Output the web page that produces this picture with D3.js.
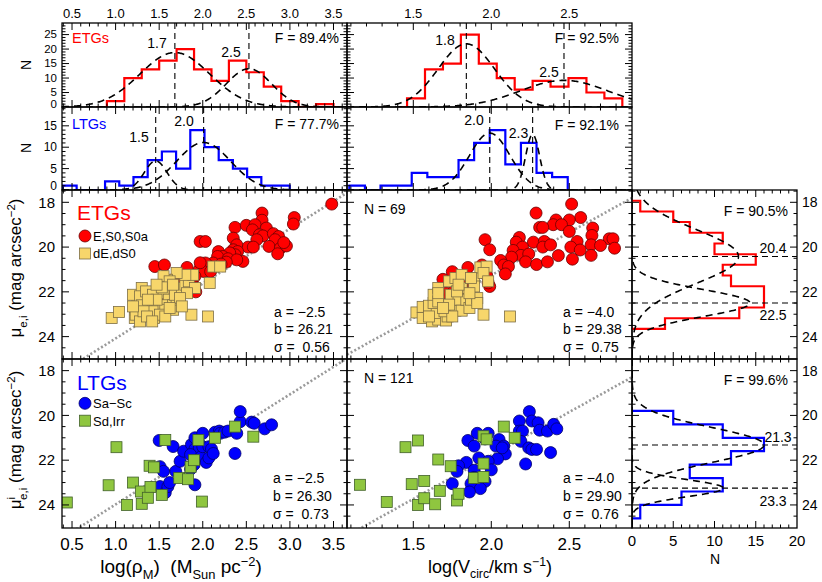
<!DOCTYPE html>
<html><head><meta charset="utf-8">
<script src="https://cdn.jsdelivr.net/npm/d3@7"></script>
<style>
body{margin:0;background:#fff}
svg text{font-family:"Liberation Sans",Arial,Helvetica,sans-serif;fill:#000;white-space:pre}
</style></head>
<body><svg id="c" width="822" height="582" xmlns="http://www.w3.org/2000/svg"></svg>
<script>
// ---------------- DATA ----------------
const rhoTicks=[0.5,1.0,1.5,2.0,2.5,3.0,3.5];
const vcTicks=[1.5,2.0,2.5];
const muTicks=[18,20,22,24];
const nTicks=[0,5,10,15,20];
const histTicksETG=[0,5,10,15,20,25];
const histTicksLTG=[0,5,10,15];

// top histograms (bin edges, counts)
const etgRhoEdges=[0.78,0.9,1.1,1.3,1.5,1.7,1.9,2.1,2.3,2.5,2.7,2.9,3.1,3.3,3.5,3.62];
const etgRhoCounts=[0,2,10,13,16,20,13,9,16,12,7,2,0,1,0];
const ltgRhoEdges=[0.39,0.553,0.716,0.879,1.042,1.205,1.368,1.531,1.694,1.857,2.02,2.183,2.346,2.509,2.672,2.835,2.998];
const ltgRhoCounts=[1,0,0,2,1,3,7,9,5,14,10,7,5,3,1,1];
const etgVcEdges=[1.40,1.46,1.575,1.69,1.805,1.92,2.035,2.15,2.265,2.38,2.495,2.61,2.725,2.84];
const etgVcCounts=[0,3,13,15,25,15,10,6,9,7,10,5,3];
const ltgVcEdges=[1.09,1.19,1.29,1.39,1.49,1.59,1.69,1.79,1.89,1.99,2.09,2.19,2.29,2.39,2.49];
const ltgVcCounts=[1,0,1,1,4,3,3,7,11,14,6,11,4,3];
// right histograms (surface brightness)
const etgMuEdges=[17.93,18.41,18.88,19.36,19.84,20.32,20.79,21.27,21.75,22.22,22.7,23.18,23.65];
const etgMuCounts=[1,5,7,11,10,15,11,12,16,16,13,4];
const ltgMuEdges=[19.8,20.4,21.0,21.6,22.2,22.8,23.4,24.0,24.6];
const ltgMuCounts=[5,11,16,12,7,11,6,1];

// two-gaussian fits: centres, sigmas, amplitudes, labels
const etgRhoFit={c:[1.68,2.53],s:[0.40,0.26],a:[18.8,13.2],lab:["1.7","2.5"],F:"F = 89.4%"};
const ltgRhoFit={c:[1.46,2.01],s:[0.13,0.31],a:[6.8,11.1],lab:["1.5","2.0"],F:"F = 77.7%"};
const etgVcFit={c:[1.84,2.466],s:[0.18,0.28],a:[21.8,9.2],lab:["1.8","2.5"],F:"F = 92.5%"};
const ltgVcFit={c:[1.99,2.265],s:[0.13,0.045],a:[13.3,13.0],lab:["2.0","2.3"],F:"F = 92.1%"};
const etgMuFit={c:[20.42,22.5],s:[1.2,0.6],a:[12.9,14.3],lab:["20.4","22.5"],F:"F = 90.5%"};
const ltgMuFit={c:[21.32,23.25],s:[0.78,0.38],a:[16.0,11.1],lab:["21.3","23.3"],F:"F = 99.6%"};

// linear relations drawn as dotted lines [slope, intercept]
const etgRhoLine=[-2.45,26.53], ltgRhoLine=[-2.46,26.44];
const etgVcLine=[-3.83,28.92], ltgVcLine=[-3.88,29.55];
const etgRhoText=["a = \u22122.5","b = 26.21","\u03c3 =  0.56"];
const etgVcText=["a = \u22124.0","b = 29.38","\u03c3 =  0.75"];
const ltgRhoText=["a = \u22122.5","b = 26.30","\u03c3 =  0.73"];
const ltgVcText=["a = \u22124.0","b = 29.90","\u03c3 =  0.76"];

// scatter: [x, mu]
const etgRhoE=[[3.48,18.08],[2.68,18.48],[2.68,18.8],[3.05,18.68],[3.04,18.97],[2.37,19.12],[2.5,19.03],[2.6,19.0],[2.57,19.23],[2.73,19.15],[2.65,19.45],[2.69,19.5],[2.81,19.4],[2.87,19.53],[2.83,19.67],[2.62,19.67],[2.35,19.6],[1.97,19.75],[2.03,19.75],[2.76,19.97],[2.89,20.05],[2.96,19.95],[2.52,20.0],[2.39,19.9],[2.35,20.12],[2.40,20.2],[2.37,20.34],[2.31,20.26],[2.18,20.2],[2.23,20.42],[2.17,20.42],[2.29,20.52],[2.46,20.64],[2.39,20.57],[2.27,20.67],[2.12,20.71],[2.08,20.87],[2.05,20.94],[2.03,20.71],[2.21,20.76],[1.82,20.91],[1.96,21.01],[2.01,21.09],[1.45,20.87],[1.56,20.8],[1.66,21.46],[1.72,21.68],[1.77,21.6],[1.89,21.4],[1.82,21.83],[1.92,22.0],[1.74,22.0],[1.53,22.05],[1.61,22.2],[1.55,22.43],[1.53,22.6],[1.91,21.3],[2.09,21.09],[1.97,20.7],[2.58,20.0],[2.93,19.8],[2.86,20.3]];
const etgRhoD=[[0.955,23.17],[1.04,22.9],[1.22,23.17],[1.23,22.8],[1.25,22.5],[1.2,22.13],[1.30,21.83],[1.28,22.2],[1.30,22.6],[1.23,23.02],[1.28,23.32],[1.35,21.98],[1.43,22.13],[1.45,22.5],[1.47,22.8],[1.44,23.17],[1.43,22.87],[1.55,22.06],[1.61,22.35],[1.55,22.6],[1.57,22.8],[1.51,23.02],[1.66,22.6],[1.66,22.8],[1.70,22.35],[1.68,22.13],[1.76,21.83],[1.80,21.68],[1.84,21.53],[1.89,21.24],[1.80,21.24],[1.70,21.16],[1.59,21.46],[1.55,21.3],[1.62,21.53],[2.08,21.6],[1.87,23.02],[2.06,23.1],[2.12,20.87],[2.20,20.87],[1.91,21.83],[1.82,22.06],[1.74,22.28],[1.47,22.35],[1.37,22.35],[1.32,22.87],[1.36,23.1],[1.42,23.32],[1.57,23.1],[1.76,22.65],[1.62,22.72],[1.53,21.8],[1.66,21.68],[1.47,21.68],[1.20,22.65]];
const etgVcE=[[2.515,18.08],[2.287,18.48],[2.573,18.68],[2.415,18.79],[2.50,18.79],[2.397,19.0],[2.45,19.0],[2.31,19.12],[2.33,19.12],[2.65,19.15],[2.50,19.3],[2.645,19.48],[2.18,19.57],[2.16,19.78],[2.27,19.78],[2.34,19.75],[2.55,19.75],[2.756,19.63],[2.78,19.63],[1.96,19.67],[1.99,20.12],[2.2,20.0],[2.14,20.15],[2.33,20.0],[2.38,19.9],[2.51,20.0],[2.57,20.13],[2.64,19.9],[2.70,19.93],[2.79,20.05],[2.43,20.38],[2.52,20.54],[2.64,20.37],[2.19,20.37],[2.24,20.31],[2.13,20.45],[2.06,20.6],[2.22,20.66],[2.29,20.78],[2.36,20.66],[1.85,20.91],[1.94,20.8],[2.08,20.8],[2.11,20.87],[2.09,21.2],[1.97,21.26],[1.75,21.1],[1.69,21.44],[1.99,21.76],[1.71,22.05],[1.98,21.6],[1.87,21.6],[1.81,21.68],[1.76,21.98],[1.81,22.2],[1.66,22.65]];
const etgVcD=[[1.52,22.92],[1.56,23.17],[1.56,22.67],[1.6,22.62],[1.62,23.32],[1.66,23.24],[1.65,22.95],[1.63,22.5],[1.63,22.13],[1.66,21.83],[1.66,22.43],[1.71,23.28],[1.72,23.1],[1.70,22.87],[1.73,21.53],[1.74,22.13],[1.77,21.38],[1.77,22.84],[1.79,22.35],[1.81,21.24],[1.81,22.84],[1.81,21.83],[1.84,22.35],[1.86,22.72],[1.87,22.35],[1.89,21.38],[1.89,21.76],[1.91,22.28],[1.91,22.5],[1.93,20.91],[1.97,20.87],[1.95,21.16],[1.98,21.53],[1.95,23.02],[2.12,23.1],[1.73,22.57],[1.78,21.98],[1.66,22.06],[1.75,23.1],[1.6,23.1],[1.86,22.06],[1.69,22.72],[1.87,21.38],[1.79,21.68]];
const ltgRhoS=[[1.50,21.12],[1.66,21.39],[1.51,22.29],[1.51,23.18],[1.55,22.5],[1.57,23.45],[1.6,23.18],[1.62,23.0],[1.69,22.5],[1.74,22.05],[1.78,21.6],[1.87,21.3],[1.91,21.5],[1.95,21.2],[1.91,21.0],[1.96,21.45],[1.86,21.75],[1.90,22.2],[1.86,22.4],[1.98,21.85],[2.0,21.4],[1.91,23.1],[2.0,20.8],[2.07,21.4],[2.04,22.1],[2.07,21.9],[2.1,21.5],[2.12,21.7],[2.14,20.75],[2.19,20.7],[2.2,20.8],[2.25,20.75],[2.29,20.7],[2.39,20.8],[2.37,21.7],[2.43,20.28],[2.43,19.83],[2.56,20.3],[2.59,20.35],[2.71,20.6],[2.79,20.42]];
const ltgRhoI=[[0.44,23.89],[1.01,21.42],[0.92,23.12],[1.2,23.0],[1.13,24.0],[1.30,23.95],[1.29,23.4],[1.39,22.25],[1.44,22.32],[1.40,23.2],[1.37,23.68],[1.53,23.55],[1.57,21.1],[1.73,22.8],[1.83,22.85],[1.86,22.3],[1.90,22.0],[1.95,21.1],[1.99,23.85],[2.14,21.0],[2.37,20.5],[2.58,20.95]];
const ltgVcS=[[2.244,19.83],[2.18,20.25],[2.26,20.25],[2.30,20.33],[2.31,20.66],[2.18,20.7],[2.2,20.7],[2.36,20.7],[2.40,20.4],[2.42,20.6],[1.98,20.8],[1.91,20.8],[1.85,21.12],[1.89,21.37],[1.96,21.05],[2.05,21.08],[2.03,21.37],[2.08,21.37],[2.09,21.72],[2.04,21.94],[2.19,21.16],[2.24,21.45],[2.26,21.52],[2.29,21.52],[2.38,21.66],[2.22,22.17],[1.92,21.9],[1.98,22.05],[1.84,22.1],[1.79,22.25],[1.78,22.5],[1.89,22.45],[2.0,22.43],[1.75,23.05],[1.87,23.05],[1.89,22.77],[1.96,22.95],[1.93,23.27],[1.86,23.42],[2.07,21.45]];
const ltgVcI=[[1.158,23.1],[1.33,23.87],[1.45,21.42],[1.53,21.12],[1.49,23.07],[1.57,22.93],[1.53,24.0],[1.57,23.7],[1.64,23.97],[1.66,21.97],[1.67,23.37],[1.74,22.27],[1.78,23.8],[1.79,23.5],[1.89,22.8],[1.95,22.75],[1.95,22.15],[1.95,20.93],[1.97,21.07],[2.08,20.5],[2.15,21.0]];

// ---------------- LAYOUT ----------------
const svg=d3.select('#c');
const colL=[62,347], colM=[347,632], colR=[632,797];
const rHE=[23,107], rHL=[107,190], rSE=[190,359], rSL=[359,528];
const xRho=d3.scaleLinear().domain([0.385,3.655]).range(colL);
const xVc=d3.scaleLinear().domain([1.075,2.902]).range(colM);
const xN=d3.scaleLinear().domain([0,20]).range(colR);
const yHE=d3.scaleLinear().domain([0,29]).range([rHE[1],rHE[0]]);
const yHL=d3.scaleLinear().domain([0,19.4]).range([rHL[1],rHL[0]]);
const yMuE=d3.scaleLinear().domain([17.45,25.0]).range(rSE);
const yMuL=d3.scaleLinear().domain([17.48,25.03]).range(rSL);

const RED='#ff0000', BLUE='#0000ff';
let clipId=0;
function clip(x0,x1,y0,y1){const id='cl'+(clipId++);svg.append('clipPath').attr('id',id).append('rect').attr('x',x0).attr('y',y0).attr('width',x1-x0).attr('height',y1-y0);return 'url(#'+id+')';}

function tickVals(dom,step){const a=Math.min(...dom),b=Math.max(...dom);const o=[];for(let k=Math.ceil(a/step-1e-9);k*step<=b+1e-9;k++)o.push(+(k*step).toFixed(6));return o;}
function isMaj(v,m){return Math.abs(v/m-Math.round(v/m))<1e-6;}

function frame(xs,ys,xMin,xMaj,yMin,yMaj){
  const [x0,x1]=xs.range(), yr=ys.range(), y0=Math.min(...yr), y1=Math.max(...yr);
  const g=svg.append('g').attr('stroke','#000').attr('stroke-width',1);
  tickVals(xs.domain(),xMin).forEach(v=>{const x=xs(v);if(x<x0+1||x>x1-1)return;const l=isMaj(v,xMaj)?7:3.5;
    g.append('line').attr('x1',x).attr('x2',x).attr('y1',y1).attr('y2',y1-l);
    g.append('line').attr('x1',x).attr('x2',x).attr('y1',y0).attr('y2',y0+l);});
  tickVals(ys.domain(),yMin).forEach(v=>{const y=ys(v);if(y<y0+1||y>y1-1)return;const l=isMaj(v,yMaj)?7:3.5;
    g.append('line').attr('x1',x0).attr('x2',x0+l).attr('y1',y).attr('y2',y);
    g.append('line').attr('x1',x1).attr('x2',x1-l).attr('y1',y).attr('y2',y);});
  svg.append('rect').attr('x',x0).attr('y',y0).attr('width',x1-x0).attr('height',y1-y0).attr('fill','none').attr('stroke','#000').attr('stroke-width',1.3);
}
function txt(x,y,s,o={}){return svg.append('text').attr('x',x).attr('y',y).attr('font-size',o.fs||14).attr('text-anchor',o.a||'start').style('fill',o.c||'#000').text(s);}
function rich(x,y,parts,fs,o={}){
  const t=svg.append('text').attr('x',x).attr('y',y).attr('font-size',fs).attr('text-anchor',o.a||'middle');
  if(o.rot)t.attr('transform',`rotate(-90,${x},${y})`);
  let cur=0;
  parts.forEach(p=>{const tgt=p.sub?0.33*fs:p.sup?-0.36*fs:0;const s=t.append('tspan').attr('dy',tgt-cur).text(p.t);
    if(p.sub||p.sup)s.attr('font-size',fs*0.68);if(p.dx)s.attr('dx',p.dx);cur=tgt;});
  return t;
}
function gauss(c,s,a,v){return a*Math.exp(-0.5*((v-c)/s)**2);}

function topHist(xs,ys,edges,counts,col,fit){
  const [x0,x1]=xs.range(), y0=Math.min(...ys.range()), y1=Math.max(...ys.range());
  const cp=clip(x0,x1,y0,y1);
  const g=svg.append('g').attr('clip-path',cp);
  const pts=[[edges[0],0]];
  counts.forEach((c,i)=>{pts.push([edges[i],c]);pts.push([edges[i+1],c]);});
  pts.push([edges[edges.length-1],0]);
  g.append('path').attr('d',d3.line().x(d=>xs(d[0])).y(d=>ys(d[1]))(pts)).attr('fill','none').attr('stroke',col).attr('stroke-width',2.2);
  const dom=xs.domain();
  fit.c.forEach((c,i)=>{
    const samp=d3.range(0,401).map(k=>dom[0]+(dom[1]-dom[0])*k/400);
    g.append('path').attr('d',d3.line().x(v=>xs(v)).y(v=>ys(gauss(c,fit.s[i],fit.a[i],v)))(samp)).attr('fill','none').attr('stroke','#000').attr('stroke-width',1.6).attr('stroke-dasharray','7,5');
    g.append('line').attr('x1',xs(c)).attr('x2',xs(c)).attr('y1',y0).attr('y2',y1).attr('stroke','#000').attr('stroke-width',1.1).attr('stroke-dasharray','6,4');
  });
}
function rightHist(xs,ys,edges,counts,col,fit){
  const [x0,x1]=xs.range(), y0=Math.min(...ys.range()), y1=Math.max(...ys.range());
  const cp=clip(x0,x1,y0,y1);
  const g=svg.append('g').attr('clip-path',cp);
  const pts=[[0,edges[0]]];
  counts.forEach((c,i)=>{pts.push([c,edges[i]]);pts.push([c,edges[i+1]]);});
  pts.push([0,edges[edges.length-1]]);
  g.append('path').attr('d',d3.line().x(d=>xs(d[0])).y(d=>ys(d[1]))(pts)).attr('fill','none').attr('stroke',col).attr('stroke-width',2.2);
  const dom=ys.domain();
  fit.c.forEach((c,i)=>{
    const samp=d3.range(0,401).map(k=>dom[0]+(dom[1]-dom[0])*k/400);
    g.append('path').attr('d',d3.line().x(v=>xs(gauss(c,fit.s[i],fit.a[i],v))).y(v=>ys(v))(samp)).attr('fill','none').attr('stroke','#000').attr('stroke-width',1.6).attr('stroke-dasharray','7,5');
    g.append('line').attr('x1',x0).attr('x2',x1).attr('y1',ys(c)).attr('y2',ys(c)).attr('stroke','#000').attr('stroke-width',1.1).attr('stroke-dasharray','6,4');
  });
}
function scatter(xs,ys,circ,sq,cFill,cStroke,sFill,sStroke,line){
  const [x0,x1]=xs.range(), y0=Math.min(...ys.range()), y1=Math.max(...ys.range());
  const cp=clip(x0,x1,y0,y1);
  const g=svg.append('g').attr('clip-path',cp);
  const dom=xs.domain();
  g.append('line').attr('x1',xs(dom[0])).attr('x2',xs(dom[1])).attr('y1',ys(line[0]*dom[0]+line[1])).attr('y2',ys(line[0]*dom[1]+line[1]))
   .attr('stroke','#9a9a9a').attr('stroke-width',2.6).attr('stroke-dasharray','2,2.2');
  g.selectAll('circle.p').data(circ).enter().append('circle').attr('cx',d=>xs(d[0])).attr('cy',d=>ys(d[1])).attr('r',6)
   .attr('fill',cFill).attr('stroke',cStroke).attr('stroke-width',0.8);
  g.selectAll('rect.p').data(sq).enter().append('rect').attr('x',d=>xs(d[0])-5.5).attr('y',d=>ys(d[1])-5.5).attr('width',11).attr('height',11)
   .attr('fill',sFill).attr('stroke',sStroke).attr('stroke-width',0.8);
}

// ---------------- DRAW ----------------
topHist(xRho,yHE,etgRhoEdges,etgRhoCounts,RED,etgRhoFit);
topHist(xVc,yHE,etgVcEdges,etgVcCounts,RED,etgVcFit);
topHist(xRho,yHL,ltgRhoEdges,ltgRhoCounts,BLUE,ltgRhoFit);
topHist(xVc,yHL,ltgVcEdges,ltgVcCounts,BLUE,ltgVcFit);
frame(xRho,yHE,0.1,0.5,1,5);frame(xVc,yHE,0.1,0.5,1,5);
frame(xRho,yHL,0.1,0.5,1,5);frame(xVc,yHL,0.1,0.5,1,5);

const YEL='#f7d66b', YELS='#7d6e45', GRN='#8fc63f', GRNS='#41602a', REDS='#6a0000', BLUS='#00006a';
scatter(xRho,yMuE,etgRhoE,etgRhoD,RED,REDS,YEL,YELS,etgRhoLine);
scatter(xVc,yMuE,etgVcE,etgVcD,RED,REDS,YEL,YELS,etgVcLine);
scatter(xRho,yMuL,ltgRhoS,ltgRhoI,BLUE,BLUS,GRN,GRNS,ltgRhoLine);
scatter(xVc,yMuL,ltgVcS,ltgVcI,BLUE,BLUS,GRN,GRNS,ltgVcLine);
frame(xRho,yMuE,0.1,0.5,0.5,2);frame(xVc,yMuE,0.1,0.5,0.5,2);
frame(xRho,yMuL,0.1,0.5,0.5,2);frame(xVc,yMuL,0.1,0.5,0.5,2);

rightHist(xN,yMuE,etgMuEdges,etgMuCounts,RED,etgMuFit);
rightHist(xN,yMuL,ltgMuEdges,ltgMuCounts,BLUE,ltgMuFit);
frame(xN,yMuE,1,5,0.5,2);frame(xN,yMuL,1,5,0.5,2);

// ---------------- TEXT ----------------
rhoTicks.forEach(v=>txt(xRho(v),17.5,v.toFixed(1),{fs:13,a:'middle'}));
vcTicks.forEach(v=>txt(xVc(v),17.5,v.toFixed(1),{fs:13,a:'middle'}));
histTicksETG.forEach(v=>txt(57,v===0?yHE(v)+1:yHE(v)+3.8,String(v),{fs:11.5,a:'end'}));
histTicksLTG.forEach(v=>txt(57,v===0?yHL(v)-0.5:yHL(v)+4.2,String(v),{fs:12,a:'end'}));
rich(31,65,[{t:'N'}],14,{rot:true});
rich(31,148,[{t:'N'}],14,{rot:true});
txt(72,43,'ETGs',{fs:14.5,c:RED});
txt(339,43,etgRhoFit.F,{fs:14,a:'end'});
txt(157,48,etgRhoFit.lab[0],{fs:14,a:'middle'});
txt(231,57,etgRhoFit.lab[1],{fs:14,a:'middle'});
txt(445,45,etgVcFit.lab[0],{fs:14,a:'middle'});
txt(549,77,etgVcFit.lab[1],{fs:14,a:'middle'});
txt(619,43,etgVcFit.F,{fs:14,a:'end'});
txt(72,129,'LTGs',{fs:14.5,c:BLUE});
txt(339,129,ltgRhoFit.F,{fs:14,a:'end'});
txt(139,142,ltgRhoFit.lab[0],{fs:14,a:'middle'});
txt(184,126,ltgRhoFit.lab[1],{fs:14,a:'middle'});
txt(474,125,ltgVcFit.lab[0],{fs:14,a:'middle'});
txt(518.5,138,ltgVcFit.lab[1],{fs:14,a:'middle'});
txt(619,130,ltgVcFit.F,{fs:14,a:'end'});

muTicks.forEach(v=>{txt(55,yMuE(v)+5.2,String(v),{fs:15,a:'end'});txt(55,yMuL(v)+5.2,String(v),{fs:15,a:'end'});
  txt(802,yMuE(v)+5,String(v),{fs:14});txt(802,yMuL(v)+5,String(v),{fs:14});});
rhoTicks.forEach(v=>txt(xRho(v),549.5,v.toFixed(1),{fs:17,a:'middle'}));
vcTicks.forEach(v=>txt(xVc(v),549.5,v.toFixed(1),{fs:17,a:'middle'}));
nTicks.forEach(v=>txt(xN(v),545.5,String(v),{fs:15,a:'middle'}));
txt(715,563.5,'N',{fs:14,a:'middle'});
rich(181,572.5,[{t:'log(\u03c1'},{t:'M',sub:true},{t:')  (M'},{t:'Sun',sub:true},{t:' pc'},{t:'\u22122',sup:true},{t:')'}],19);
rich(490,572.5,[{t:'log(V'},{t:'circ',sub:true},{t:'/km s'},{t:'\u22121',sup:true},{t:')'}],18);
rich(21,268,[{t:'\u03bc'},{t:'e,i',sub:true},{t:' (mag arcsec'},{t:'\u22122',sup:true},{t:')'}],17,{rot:true});
rich(21,440,[{t:'\u03bc'},{t:'i',sup:true},{t:'e,i',sub:true,dx:-3},{t:' (mag arcsec'},{t:'\u22122',sup:true},{t:')'}],17,{rot:true});

txt(77,220,'ETGs',{fs:21,c:RED});
svg.append('circle').attr('cx',85).attr('cy',236).attr('r',6).attr('fill',RED).attr('stroke',REDS).attr('stroke-width',0.8);
txt(93,240.5,'E,S0,S0a',{fs:13});
svg.append('rect').attr('x',79.5).attr('y',248).attr('width',11).attr('height',11).attr('fill',YEL).attr('stroke',YELS).attr('stroke-width',0.8);
txt(93,258,'dE,dS0',{fs:13});
etgRhoText.forEach((s,i)=>txt(274,316.5+i*17.5,s,{fs:14}));
txt(364,214,'N = 69',{fs:14});
etgVcText.forEach((s,i)=>txt(563,316.5+i*17.5,s,{fs:14}));

txt(77,390,'LTGs',{fs:21,c:BLUE});
svg.append('circle').attr('cx',85).attr('cy',403.3).attr('r',6).attr('fill',BLUE).attr('stroke',BLUS).attr('stroke-width',0.8);
txt(93,408,'Sa\u2212Sc',{fs:13});
svg.append('rect').attr('x',79.5).attr('y',415.2).attr('width',11).attr('height',11).attr('fill',GRN).attr('stroke',GRNS).attr('stroke-width',0.8);
txt(93,425.5,'Sd,Irr',{fs:13});
ltgRhoText.forEach((s,i)=>txt(273,482.7+i*18,s,{fs:14}));
txt(364,383,'N = 121',{fs:14});
ltgVcText.forEach((s,i)=>txt(563,483.3+i*18,s,{fs:14}));

txt(788,216,etgMuFit.F,{fs:14,a:'end'});
txt(773,253,etgMuFit.lab[0],{fs:14,a:'middle'});
txt(773,320,etgMuFit.lab[1],{fs:14,a:'middle'});
txt(788,385,ltgMuFit.F,{fs:14,a:'end'});
txt(778,442,ltgMuFit.lab[0],{fs:14,a:'middle'});
txt(773,506,ltgMuFit.lab[1],{fs:14,a:'middle'});
</script></body></html>
